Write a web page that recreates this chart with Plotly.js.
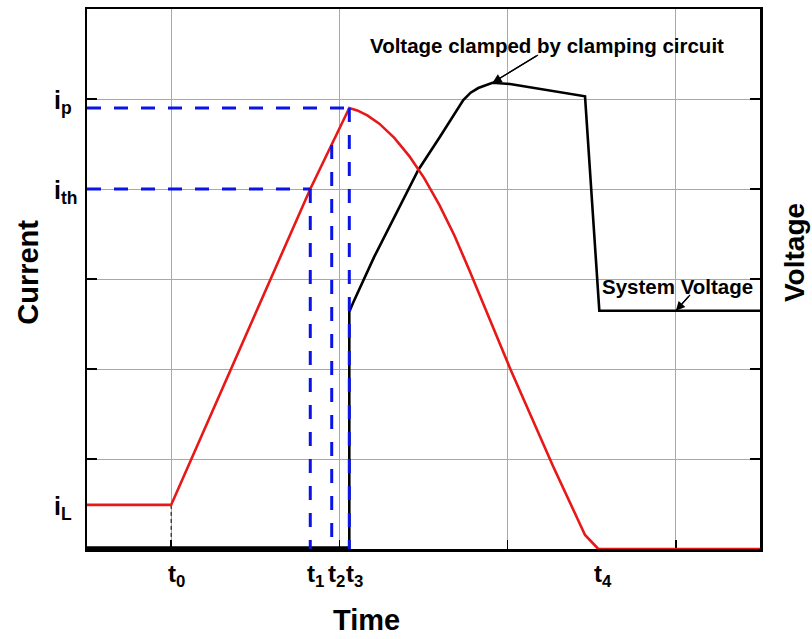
<!DOCTYPE html>
<html>
<head>
<meta charset="utf-8">
<script src="https://cdn.plot.ly/plotly-3.0.1.min.js"></script>
<style>html,body{margin:0;padding:0;background:#fff;}#chart{width:812px;height:639px;}</style>
</head>
<body>
<div id="chart"></div>
<script>
// ---- data ----
const timeLabels = ['t<sub>0</sub>', 't<sub>1</sub>', 't<sub>2</sub>', 't<sub>3</sub>', 't<sub>4</sub>'];
const timeVals = [1.0, 2.654, 2.909, 3.118, 6.078];
const currentLabels = ['i<sub>L</sub>', 'i<sub>th</sub>', 'i<sub>p</sub>'];
const currentLabelVals = [0.49, 4.0, 5.0];

const iL = 0.49, iTh = 4.0, iP = 4.9, iAtT2 = 4.49;

const currentX = [0, 1.0, 2.654, 3.118, 3.213, 3.332, 3.475, 3.653, 3.831, 4.010, 4.188, 4.366, 4.544, 5.037, 5.543, 5.920, 6.078, 8];
const currentY = [0.49, 0.49, 4.0, 4.9, 4.873, 4.818, 4.726, 4.568, 4.366, 4.118, 3.824, 3.486, 3.101, 1.989, 0.914, 0.156, 0, 0];

const voltageX = [0, 3.118, 3.118, 3.162, 3.415, 3.938, 4.196, 4.473, 4.56, 4.651, 4.82, 5.028, 5.92, 6.09, 8];
const voltageY = [0.015, 0.015, 2.637, 2.733, 3.248, 4.211, 4.581, 4.989, 5.07, 5.122, 5.18, 5.167, 5.03, 2.648, 2.648];

const clampText = 'Voltage clamped by clamping circuit';
const systemText = 'System Voltage';

// ---- styling ----
const FONT = 'Arial, "Liberation Sans", sans-serif';
const BLUE = '#0a14e6';
const RED = '#e81818';

const [t0, t1, t2, t3, t4] = timeVals;

const dashedSegments = [
  {x: [0, t3], y: [iP, iP]},
  {x: [0, t1], y: [iTh, iTh]},
  {x: [t1, t1], y: [iTh, 0]},
  {x: [t2, t2], y: [iAtT2, 0]},
  {x: [t3, t3], y: [iP, 0]}
];

const traces = [];
traces.push({x: [t0, t0], y: [iL, 0], mode: 'lines', line: {color: '#000', width: 1, dash: '4px,3px'}, hoverinfo: 'skip', showlegend: false});
traces.push({x: voltageX, y: voltageY, mode: 'lines', line: {color: '#000', width: 2.6}, showlegend: false, name: 'Voltage'});
traces.push({x: currentX, y: currentY, mode: 'lines', line: {color: RED, width: 2.6}, showlegend: false, name: 'Current'});
dashedSegments.forEach(s => traces.push({x: s.x, y: s.y, mode: 'lines', line: {color: BLUE, width: 3, dash: '14px,13px'}, showlegend: false, hoverinfo: 'skip'}));

// callout arrow geometry: tip on the voltage curve, tail near the text
const clampTip = {x: voltageX[10], y: voltageY[10]};
const clampTail = {x: 5.361, y: 5.489};
const systemTip = {x: 7.0, y: voltageY[voltageY.length - 1]};
const systemTail = {x: 7.168, y: 2.822};

const annotations = [];
timeLabels.forEach((lab, i) => annotations.push({
  x: timeVals[i], y: 0, xref: 'x', yref: 'paper', text: lab, showarrow: false,
  xanchor: 'center', yanchor: 'top', xshift: 5, yshift: -9,
  font: {family: FONT, size: 24, color: '#000', weight: 'bold'}
}));
currentLabels.forEach((lab, i) => annotations.push({
  x: 0, y: currentLabelVals[i], xref: 'paper', yref: 'y', text: lab, showarrow: false,
  xanchor: 'left', yanchor: 'middle', xshift: -35, yshift: -3,
  font: {family: FONT, size: 25, color: '#000', weight: 'bold'}
}));
// axis titles
annotations.push({x: -0.088, y: 0.513, xref: 'paper', yref: 'paper', text: 'Current', textangle: -90, showarrow: false,
  xanchor: 'center', yanchor: 'middle', font: {family: FONT, size: 29, color: '#000', weight: 'bold'}});
annotations.push({x: 1.052, y: 0.55, xref: 'paper', yref: 'paper', text: 'Voltage', textangle: -90, showarrow: false,
  xanchor: 'center', yanchor: 'middle', font: {family: FONT, size: 28, color: '#000', weight: 'bold'}});
annotations.push({x: 0.4146, y: -0.1315, xref: 'paper', yref: 'paper', text: 'Time', showarrow: false,
  xanchor: 'center', yanchor: 'middle', font: {family: FONT, size: 29, color: '#000', weight: 'bold'}});
// callout texts
annotations.push({x: 5.465, y: 5.589, xref: 'x', yref: 'y', text: clampText, showarrow: false,
  xanchor: 'center', yanchor: 'middle', font: {family: FONT, size: 20.5, color: '#000', weight: 'bold'}});
annotations.push({x: 7.019, y: 2.922, xref: 'x', yref: 'y', text: systemText, showarrow: false,
  xanchor: 'center', yanchor: 'middle', font: {family: FONT, size: 20.5, color: '#000', weight: 'bold'}});
// arrow heads
annotations.push({x: clampTip.x, y: clampTip.y, xref: 'x', yref: 'y', text: ' ', showarrow: true,
  axref: 'x', ayref: 'y', ax: clampTail.x, ay: clampTail.y,
  arrowhead: 2, arrowsize: 1.4, arrowwidth: 1.3, arrowcolor: '#000', font: {size: 1}});
annotations.push({x: systemTip.x, y: systemTip.y, xref: 'x', yref: 'y', text: ' ', showarrow: true,
  axref: 'x', ayref: 'y', ax: systemTail.x, ay: systemTail.y,
  arrowhead: 2, arrowsize: 1.4, arrowwidth: 1.3, arrowcolor: '#000', font: {size: 1}});

// arrow shafts
const shapes = [
  {type: 'line', xref: 'x', yref: 'y', x0: clampTip.x, y0: clampTip.y, x1: clampTail.x, y1: clampTail.y,
   layer: 'above', line: {color: '#000', width: 1.2}},
  {type: 'line', xref: 'x', yref: 'y', x0: systemTip.x, y0: systemTip.y, x1: systemTail.x, y1: systemTail.y,
   layer: 'above', line: {color: '#000', width: 1.2}}
];

const layout = {
  width: 812, height: 639,
  margin: {l: 87, r: 52, t: 9, b: 90, pad: 0},
  paper_bgcolor: '#fff', plot_bgcolor: '#fff',
  font: {family: FONT, color: '#000'},
  showlegend: false,
  xaxis: {
    range: [0, 8], tick0: 1, dtick: 2, showticklabels: false,
    showgrid: true, gridcolor: '#a8a8a8', gridwidth: 1, zeroline: false,
    showline: true, linecolor: '#000', linewidth: 2.5, mirror: true,
    ticks: 'inside', ticklen: 9, tickwidth: 1.5, tickcolor: '#000',
    layer: 'below traces', fixedrange: true
  },
  yaxis: {
    range: [0, 6], tick0: 0, dtick: 1, showticklabels: false,
    showgrid: true, gridcolor: '#a8a8a8', gridwidth: 1, zeroline: false,
    showline: true, linecolor: '#000', linewidth: 2.5, mirror: 'ticks',
    ticks: 'inside', ticklen: 10, tickwidth: 1.5, tickcolor: '#000',
    layer: 'below traces', fixedrange: true
  },
  shapes: shapes,
  annotations: annotations
};

Plotly.newPlot('chart', traces, layout, {displayModeBar: false, staticPlot: true});
</script>
</body>
</html>
